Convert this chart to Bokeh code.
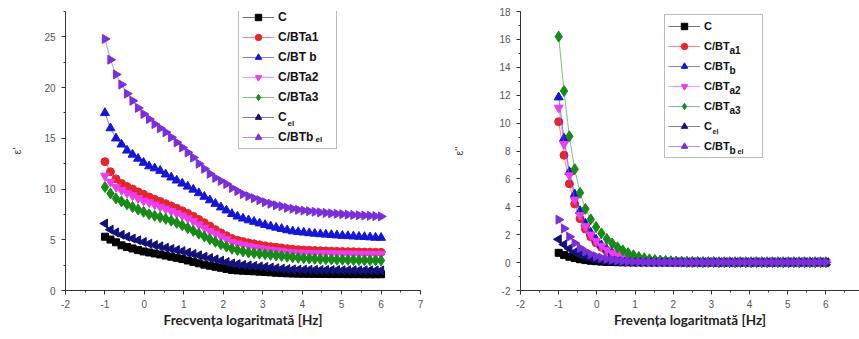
from math import pi
from bokeh.plotting import figure
from bokeh.models import (ColumnDataSource, Legend, LegendItem, Label,
                          SingleIntervalTicker, Range1d, PrintfTickFormatter)
from bokeh.layouts import row
from bokeh.embed import file_html
from bokeh.resources import INLINE

# ---------------- data ----------------
LOG_F = [-1.0, -0.86, -0.72, -0.58, -0.44, -0.3, -0.16, -0.02, 0.12, 0.26,
         0.4, 0.54, 0.68, 0.82, 0.96, 1.1, 1.24, 1.38, 1.52, 1.66,
         1.8, 1.94, 2.08, 2.22, 2.36, 2.5, 2.64, 2.78, 2.92, 3.06,
         3.2, 3.34, 3.48, 3.62, 3.76, 3.9, 4.04, 4.18, 4.32, 4.46,
         4.6, 4.74, 4.88, 5.02, 5.16, 5.3, 5.44, 5.58, 5.72, 5.86,
         6.0]

SERIES = ["C", "C/BTa1", "C/BT b", "C/BTa2", "C/BTa3", "C_el", "C/BTb el"]

# epsilon' (left panel)
EPS1_C = [5.3, 5.02, 4.75, 4.45, 4.28, 4.14, 3.98, 3.85, 3.75, 3.65,
          3.55, 3.44, 3.33, 3.22, 3.1, 2.96, 2.82, 2.68, 2.55, 2.44,
          2.34, 2.24, 2.13, 2.03, 1.98, 1.95, 1.92, 1.89, 1.86, 1.82,
          1.79, 1.75, 1.72, 1.69, 1.67, 1.66, 1.65, 1.64, 1.64, 1.63,
          1.63, 1.62, 1.62, 1.62, 1.61, 1.61, 1.61, 1.6, 1.6, 1.6,
          1.6]
EPS1_A1 = [12.7, 11.7, 11.0, 10.55, 10.25, 10.0, 9.72, 9.48, 9.22, 9.0,
           8.78, 8.56, 8.33, 8.1, 7.85, 7.6, 7.32, 7.0, 6.68, 6.35,
           6.0, 5.68, 5.4, 5.12, 4.95, 4.82, 4.7, 4.6, 4.5, 4.4,
           4.32, 4.26, 4.2, 4.12, 4.06, 4.02, 3.99, 3.96, 3.94, 3.92,
           3.9, 3.88, 3.86, 3.85, 3.83, 3.82, 3.8, 3.79, 3.78, 3.77,
           3.76]
EPS1_B = [17.5, 16.0, 15.0, 14.4, 13.8, 13.4, 13.0, 12.6, 12.25, 12.05,
          11.8, 11.45, 11.15, 10.85, 10.55, 10.25, 9.95, 9.6, 9.25, 8.9,
          8.55, 8.2, 7.9, 7.55, 7.3, 7.1, 6.93, 6.78, 6.62, 6.47,
          6.33, 6.2, 6.08, 5.95, 5.84, 5.77, 5.72, 5.66, 5.61, 5.56,
          5.52, 5.48, 5.44, 5.4, 5.37, 5.34, 5.31, 5.28, 5.25, 5.22,
          5.2]
EPS1_A2 = [11.3, 10.7, 10.2, 9.9, 9.62, 9.37, 9.1, 8.84, 8.68, 8.47,
           8.25, 8.05, 7.83, 7.6, 7.38, 7.12, 6.84, 6.5, 6.17, 5.85,
           5.6, 5.34, 5.05, 4.78, 4.62, 4.5, 4.38, 4.27, 4.16, 4.07,
           4.0, 3.94, 3.87, 3.8, 3.75, 3.72, 3.7, 3.69, 3.68, 3.67,
           3.66, 3.65, 3.64, 3.64, 3.63, 3.62, 3.62, 3.61, 3.61, 3.6,
           3.6]
EPS1_A3 = [10.2, 9.56, 9.07, 8.78, 8.5, 8.22, 7.98, 7.75, 7.52, 7.36,
           7.22, 7.06, 6.88, 6.67, 6.42, 6.15, 5.88, 5.6, 5.33, 5.06,
           4.8, 4.55, 4.32, 4.12, 3.98, 3.85, 3.75, 3.68, 3.63, 3.58,
           3.52, 3.46, 3.4, 3.33, 3.27, 3.22, 3.18, 3.15, 3.12, 3.1,
           3.08, 3.06, 3.04, 3.03, 3.01, 3.0, 2.99, 2.98, 2.97, 2.97,
           2.96]
EPS1_EL = [6.6, 6.0, 5.72, 5.5, 5.3, 5.12, 4.95, 4.78, 4.62, 4.48,
           4.35, 4.22, 4.1, 3.99, 3.88, 3.74, 3.6, 3.47, 3.34, 3.2,
           3.07, 2.94, 2.8, 2.67, 2.6, 2.53, 2.47, 2.42, 2.37, 2.32,
           2.26, 2.2, 2.15, 2.11, 2.08, 2.06, 2.05, 2.04, 2.03, 2.02,
           2.02, 2.01, 2.01, 2.0, 2.0, 2.0, 1.99, 1.99, 1.99, 1.98,
           1.98]
EPS1_BEL = [24.8, 22.75, 21.3, 20.3, 19.4, 18.7, 18.0, 17.4, 16.9, 16.4,
            16.0, 15.6, 15.1, 14.6, 14.1, 13.6, 13.1, 12.5, 12.0, 11.5,
            11.1, 10.8, 10.5, 10.1, 9.8, 9.5, 9.3, 9.1, 8.9, 8.7,
            8.55, 8.4, 8.3, 8.15, 8.05, 7.95, 7.88, 7.82, 7.76, 7.7,
            7.65, 7.6, 7.56, 7.52, 7.48, 7.45, 7.42, 7.39, 7.36, 7.33,
            7.3]

# epsilon'' (right panel)
EPS2_C = [0.7, 0.55, 0.42, 0.32, 0.24, 0.18, 0.13, 0.1, 0.07, 0.05,
          0.04, 0.03, 0.02, 0.02, 0.01, 0.01, 0.01, 0.01, 0.01, 0.01,
          0.01, 0.01, 0.01, 0.01, 0.01, 0.01, 0.01, 0.01, 0.01, 0.01,
          0.01, 0.01, 0.01, 0.01, 0.01, 0.01, 0.01, 0.01, 0.01, 0.01,
          0.01, 0.01, 0.01, 0.01, 0.01, 0.01, 0.01, 0.01, 0.01, 0.01,
          0.01]
EPS2_A1 = [10.1, 7.7, 5.65, 4.2, 3.15, 2.4, 1.85, 1.42, 1.1, 0.84,
           0.64, 0.49, 0.37, 0.28, 0.22, 0.17, 0.13, 0.1, 0.08, 0.07,
           0.06, 0.05, 0.04, 0.04, 0.03, 0.03, 0.03, 0.02, 0.02, 0.02,
           0.02, 0.02, 0.02, 0.02, 0.02, 0.02, 0.02, 0.02, 0.02, 0.02,
           0.02, 0.02, 0.02, 0.02, 0.02, 0.02, 0.02, 0.02, 0.02, 0.02,
           0.02]
EPS2_B = [11.85, 8.9, 6.5, 4.9, 3.7, 2.8, 2.15, 1.65, 1.25, 0.95,
          0.72, 0.55, 0.42, 0.32, 0.25, 0.19, 0.15, 0.12, 0.1, 0.08,
          0.07, 0.06, 0.05, 0.04, 0.04, 0.03, 0.03, 0.03, 0.02, 0.02,
          0.02, 0.02, 0.02, 0.02, 0.02, 0.02, 0.02, 0.02, 0.02, 0.02,
          0.02, 0.02, 0.02, 0.02, 0.02, 0.02, 0.02, 0.02, 0.02, 0.02,
          0.02]
EPS2_A2 = [11.1, 8.5, 6.25, 4.5, 3.4, 2.6, 2.0, 1.55, 1.2, 0.92,
           0.7, 0.53, 0.4, 0.3, 0.23, 0.18, 0.14, 0.11, 0.09, 0.07,
           0.06, 0.05, 0.04, 0.04, 0.03, 0.03, 0.03, 0.02, 0.02, 0.02,
           0.02, 0.02, 0.02, 0.02, 0.02, 0.02, 0.02, 0.02, 0.02, 0.02,
           0.02, 0.02, 0.02, 0.02, 0.02, 0.02, 0.02, 0.02, 0.02, 0.02,
           0.02]
EPS2_A3 = [16.2, 12.3, 9.05, 6.7, 5.0, 3.85, 3.1, 2.55, 2.1, 1.7,
           1.38, 1.1, 0.88, 0.68, 0.52, 0.4, 0.31, 0.24, 0.19, 0.15,
           0.12, 0.1, 0.08, 0.07, 0.06, 0.05, 0.05, 0.04, 0.04, 0.04,
           0.03, 0.03, 0.03, 0.03, 0.03, 0.03, 0.03, 0.03, 0.03, 0.03,
           0.03, 0.03, 0.03, 0.03, 0.03, 0.03, 0.03, 0.03, 0.03, 0.03,
           0.03]
EPS2_EL = [1.67, 1.3, 1.0, 0.75, 0.57, 0.43, 0.32, 0.24, 0.18, 0.14,
           0.1, 0.08, 0.06, 0.05, 0.04, 0.03, 0.03, 0.02, 0.02, 0.02,
           0.02, 0.02, 0.02, 0.02, 0.02, 0.02, 0.02, 0.02, 0.02, 0.02,
           0.02, 0.02, 0.02, 0.02, 0.02, 0.02, 0.02, 0.02, 0.02, 0.02,
           0.02, 0.02, 0.02, 0.02, 0.02, 0.02, 0.02, 0.02, 0.02, 0.02,
           0.02]
EPS2_BEL = [3.08, 2.44, 1.85, 1.4, 1.05, 0.8, 0.6, 0.45, 0.34, 0.26,
            0.2, 0.15, 0.12, 0.09, 0.07, 0.06, 0.05, 0.04, 0.04, 0.03,
            0.03, 0.03, 0.03, 0.03, 0.03, 0.03, 0.03, 0.03, 0.03, 0.03,
            0.03, 0.03, 0.03, 0.03, 0.03, 0.03, 0.03, 0.03, 0.03, 0.03,
            0.03, 0.03, 0.03, 0.03, 0.03, 0.03, 0.03, 0.03, 0.03, 0.03,
            0.03]

LEFT_VALUES = [EPS1_C, EPS1_A1, EPS1_B, EPS1_A2, EPS1_A3, EPS1_EL, EPS1_BEL]
RIGHT_VALUES = [EPS2_C, EPS2_A1, EPS2_B, EPS2_A2, EPS2_A3, EPS2_EL, EPS2_BEL]

# ---------------- styles ----------------
COLORS = ["#000000", "#e3262c", "#1515d8", "#ee3cee", "#178a17", "#12127a", "#7a2fd8"]
MARKERS = [("square", 0.0, 7), ("circle", 0.0, 8), ("triangle", 0.0, 9),
           ("inverted_triangle", 0.0, 9), ("diamond", 0.0, 11),
           ("triangle", pi / 2, 9), ("triangle", -pi / 2, 9)]

TICK_FONT = "Liberation Sans"
LABEL_FONT = "Lato"


def build(values, ylabel, xlabel, y_start, y_end, y_int, x_end, width,
          b_left, b_right, b_top, b_bottom, legend_xy, legend_font, labels,
          ylabel_standoff):
    p = figure(width=width, height=339, output_backend="svg",
               toolbar_location=None,
               x_range=Range1d(-2, x_end), y_range=Range1d(y_start, y_end),
               min_border_left=b_left, min_border_right=b_right,
               min_border_top=b_top, min_border_bottom=b_bottom)
    p.outline_line_color = None
    p.grid.visible = False
    p.background_fill_color = "white"
    p.border_fill_color = "white"

    src = ColumnDataSource(dict(x=LOG_F, **{f"s{i}": v for i, v in enumerate(values)}))
    items = []
    for i, name in enumerate(SERIES):
        col = COLORS[i]
        mk, ang, sz = MARKERS[i]
        lr = p.line("x", f"s{i}", source=src, line_color=col, line_width=1, line_alpha=0.55)
        sr = p.scatter("x", f"s{i}", source=src, marker=mk, angle=ang, size=sz,
                       fill_color=col, line_color=col)
        items.append(LegendItem(label=labels[i], renderers=[lr, sr]))

    p.xaxis.ticker = SingleIntervalTicker(interval=1, num_minor_ticks=2)
    p.yaxis.ticker = SingleIntervalTicker(interval=y_int, num_minor_ticks=2)
    for ax in (p.xaxis[0], p.yaxis[0]):
        ax.formatter = PrintfTickFormatter(format="%d")
        ax.axis_line_color = "#333333"
        ax.major_tick_line_color = "#333333"
        ax.minor_tick_line_color = "#333333"
        ax.major_tick_out = 4
        ax.major_tick_in = 0
        ax.minor_tick_out = 2
        ax.minor_tick_in = 0
        ax.major_label_text_font = TICK_FONT
        ax.major_label_text_font_size = "10px"
        ax.major_label_text_color = "#555555"
    p.xaxis.major_label_standoff = 5
    p.yaxis.major_label_standoff = 6
    p.xaxis.axis_label = xlabel
    p.xaxis.axis_label_text_font = LABEL_FONT
    p.xaxis.axis_label_text_font_style = "bold"
    p.xaxis.axis_label_text_font_size = "13.5px"
    p.xaxis.axis_label_text_color = "#222222"
    p.xaxis.axis_label_standoff = 1
    p.yaxis.axis_label = ylabel
    p.yaxis.axis_label_text_font = TICK_FONT
    p.yaxis.axis_label_text_font_style = "normal"
    p.yaxis.axis_label_text_font_size = "11px"
    p.yaxis.axis_label_text_color = "#444444"
    p.yaxis.axis_label_standoff = ylabel_standoff

    # transparent legend background so the subscript labels below it stay visible
    leg = Legend(items=items, location=legend_xy, border_line_color="#777777",
                 border_line_width=1, background_fill_alpha=0.0,
                 padding=3, spacing=4, margin=0,
                 glyph_width=32, glyph_height=16, label_height=16,
                 label_width=55, label_standoff=4,
                 label_text_font=TICK_FONT, label_text_font_style="bold",
                 label_text_font_size=legend_font, label_text_color="#111111")
    p.add_layout(leg)
    return p


def sub(p, x, y, text, size):
    p.add_layout(Label(x=x, y=y, x_units="screen", y_units="screen", text=text,
                       text_font=TICK_FONT, text_font_style="bold",
                       text_font_size=size, text_color="#111111",
                       text_baseline="middle", text_align="left"))


left_labels = ["C", "C/BTa1", "C/BT b", "C/BTa2", "C/BTa3", "C", "C/BTb"]
right_labels = ["C", "C/BT", "C/BT", "C/BT", "C/BT", "C", "C/BT"]

p1 = build(LEFT_VALUES, "ε'", "Frecvența logaritmată [Hz]", 0, 27.5, 5, 7, 450,
           65, 30, 9, 45, (173, 141), "12px", left_labels, 18)
p2 = build(RIGHT_VALUES, "ε''", "Frevența logaritmată [Hz]", -2, 18, 2, 6.88, 409,
           69, 0, 11, 49, (144, 132), "11px", right_labels, 31)

# subscripts in legends (screen units, relative to plot frame bottom-left)
sub(p1, 287 - 65, 294 - 127, "el", "8px")
sub(p1, 315 - 65, 294 - 143, "el", "8px")
sub(p2, 728 - 519, 290 - 50, "a1", "10px")
sub(p2, 728 - 519, 290 - 70, "b", "10px")
sub(p2, 728 - 519, 290 - 90, "a2", "10px")
sub(p2, 728 - 519, 290 - 110, "a3", "10px")
sub(p2, 711 - 519, 290 - 131, "el", "7px")
sub(p2, 728 - 519, 290 - 150, "b", "10px")
sub(p2, 736 - 519, 290 - 151, "el", "7px")

layout = row(p1, p2, spacing=0)
open("out.html", "w").write(file_html(layout, INLINE))
